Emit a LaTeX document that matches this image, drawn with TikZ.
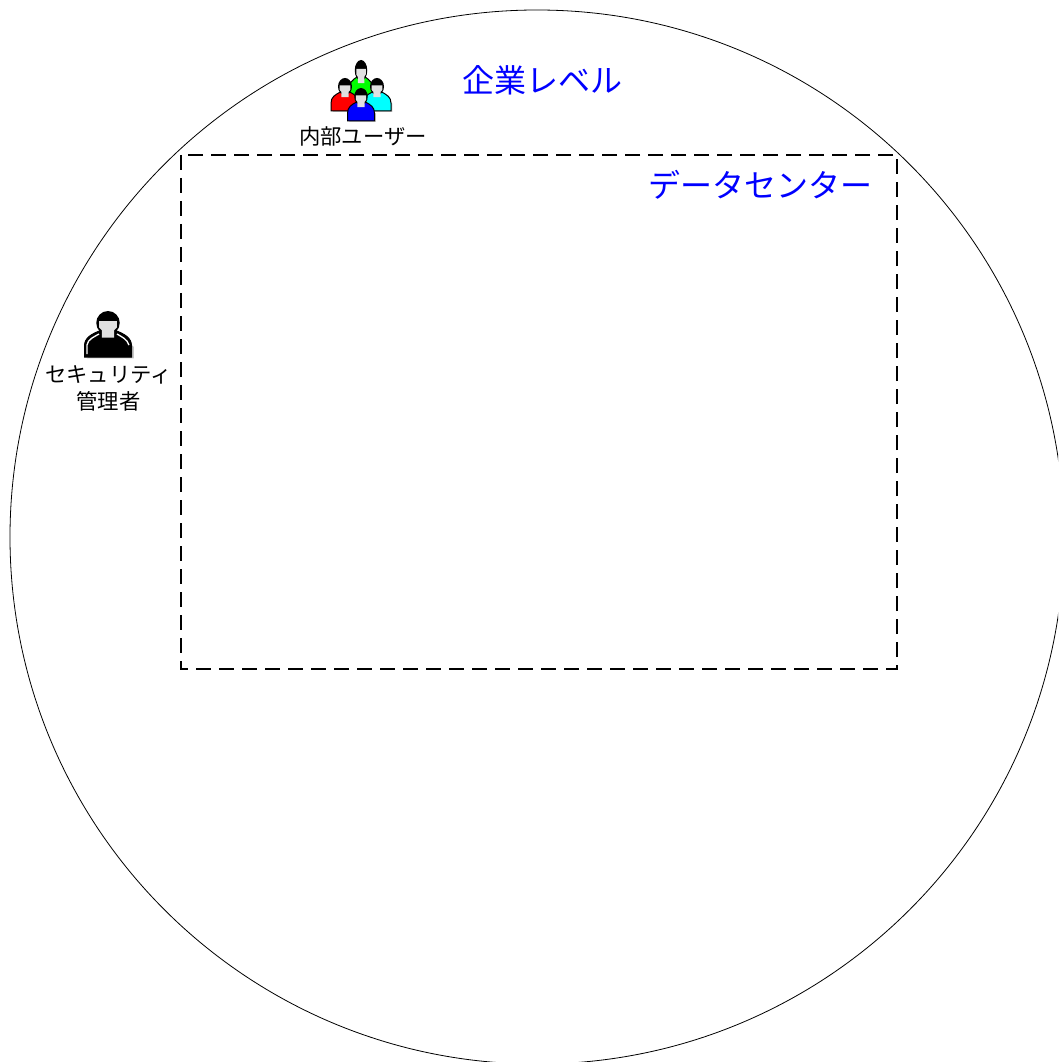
\documentclass[tikz,border=0pt]{standalone}
\usepackage{fontspec}
\setmainfont{Noto Sans CJK JP}
\definecolor{facegray}{HTML}{E0E0E0}
\definecolor{shadegray}{HTML}{C8C8C8}
\definecolor{usergreen}{HTML}{00FF00}
\definecolor{usercyan}{HTML}{00FFFF}
\definecolor{userred}{HTML}{FF0000}
\definecolor{userblue}{HTML}{0000FF}
\tikzset{
  person/.pic={
    \fill[shadegray] (-.9,-.03) -- (1.1,-.03) -- (1.1,.22) -- (.4,.55) -- cycle;
    \fill[#1,draw=black,line width=.75pt] (-1,0) -- (-1,.24) .. controls (-1,.42) and (-.7,.5) .. (-.3,.58) -- (.3,.58) .. controls (.7,.5) and (1,.42) .. (1,.24) -- (1,0) -- cycle;
    \fill[black] (0,.74) ellipse (.5 and .26);
    \fill[facegray] (-.38,.78) -- (.38,.78) -- (.38,.64) -- (.26,.58) -- (.26,.42) -- (-.26,.42) -- (-.26,.58) -- (-.38,.64) -- cycle;
  },
  levellabel/.style={text=blue,font=\fontsize{24pt}{28pt}\selectfont,inner sep=0pt},
  userlabel/.style={text=black,font=\fontsize{16pt}{20.2pt}\selectfont,inner sep=0pt,align=center},
}

\begin{document}
\begin{tikzpicture}[x=.75pt,y=-.75pt]
\useasboundingbox (0,0) rectangle (1058,1062);
\clip (0,0) rectangle (1058,1062);
\draw[line width=.6pt] (537,537) circle (527);
\draw[line width=1.25pt,dash pattern=on 11.25pt off 6pt] (181,155) rectangle (897,669);

\node[levellabel] (enterprise) at (542,80) {企業レベル};
\node[levellabel] (datacenter) at (760,185) {データセンター};

% users
\pic[xscale=12.5,yscale=-40] at (361,100) {person=usergreen};
\pic[xscale=14,yscale=-33] at (345,111) {person=userred};
\pic[xscale=14,yscale=-33] at (377,111) {person=usercyan};
\pic[xscale=13.5,yscale=-33] at (361,121) {person=userblue};
\node[userlabel] (users) at (363,136) {内部ユーザー};

% admin
\pic[xscale=23.5,yscale=-46] at (108,357) {person=black};
\draw[white,line width=1pt] (87,354) -- (87,345) .. controls (88,339) and (94,337) .. (99,334);
\draw[white,line width=1pt] (129,345) .. controls (127,339) and (122,337) .. (117,334);
\node[userlabel] (admin) at (108.5,388) {セキュリティ\\管理者};
\end{tikzpicture}
\end{document}
